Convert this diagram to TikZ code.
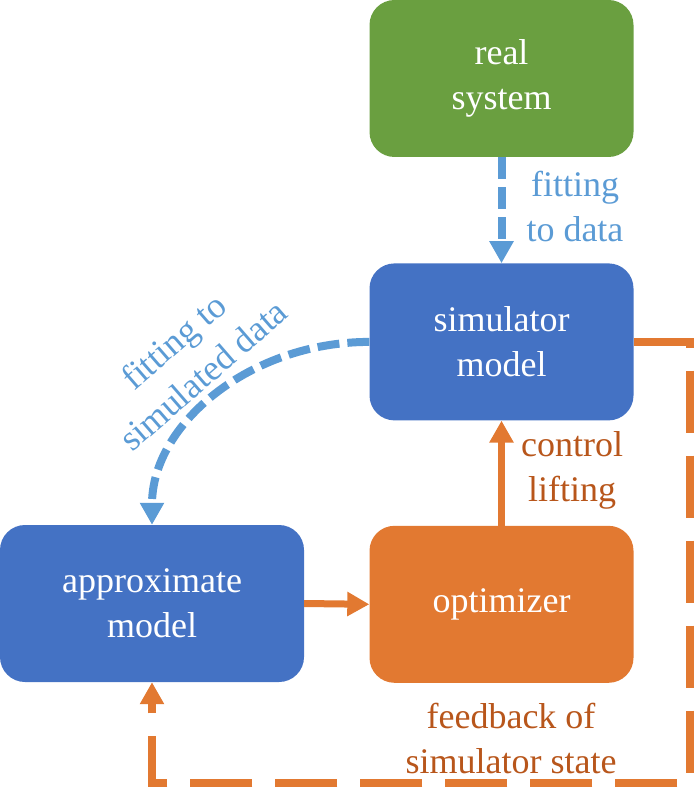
\documentclass[tikz,border=0pt]{standalone}
\usepackage{fontspec}
\setmainfont{Liberation Serif}
\usetikzlibrary{positioning,arrows.meta}

\definecolor{realgreen}{HTML}{6A9F40}
\definecolor{modelblue}{HTML}{4472C4}
\definecolor{optorange}{HTML}{E27931}
\definecolor{fitblue}{HTML}{5B9BD5}
\definecolor{labelorange}{HTML}{B8561B}

\tikzset{
	box/.style={rounded corners=25pt, minimum width=264pt, minimum height=157pt, inner sep=0pt,
		text=white, align=center, font=\fontsize{36}{45}\selectfont},
	lbl/.style={align=center, font=\fontsize{36}{45}\selectfont},
	tip/.style={-{Triangle[length=22pt,width=23pt]}},
	fitline/.style={tip, fitblue, line width=8pt, dash pattern=on 22pt off 8pt},
	ctrlline/.style={tip, optorange, line width=7pt},
	fbline/.style={tip, optorange, line width=8pt, dash pattern=on 62pt off 23pt}
}

\begin{document}
\begin{tikzpicture}[x=1pt, y=-1pt]
		\useasboundingbox (0,0) rectangle (696,791);
		% boxes
		\node[box, fill=realgreen] (real) at (501.5,78.5) {real\\system};
		\node[box, fill=modelblue, below=106pt of real] (sim) {simulator\\model};
		\node[box, fill=optorange, below=105pt of sim] (opt) {optimizer};
		\node[box, fill=modelblue, minimum width=304pt] (approx) at (152,603.5) {approximate\\model};
		\coordinate (fbcorner) at (690,783);
		% connectors
		\draw[fitline] (real.south) -- (sim.north);
		\draw[fitline] (sim.west) .. controls (250,342) and (152,424) .. (approx.north);
		\draw[ctrlline] (approx.east) -- (opt.west);
		\draw[ctrlline] (opt.north) -- (sim.south);
		\draw[fbline] (sim.east) -| (fbcorner) -| (approx.south);
		% labels
		\node[lbl, text=fitblue] (fitlbl) at (575,207) {fitting\\to data};
		\node[lbl, text=fitblue, rotate=41] (simfitlbl) at (188,358) {fitting to\\simulated data};
		\node[lbl, text=labelorange] (ctrllbl) at (572,470) {control\\lifting};
		\node[lbl, text=labelorange] (fblbl) at (511,738) {feedback of\\simulator state};
	\end{tikzpicture}
\end{document}
